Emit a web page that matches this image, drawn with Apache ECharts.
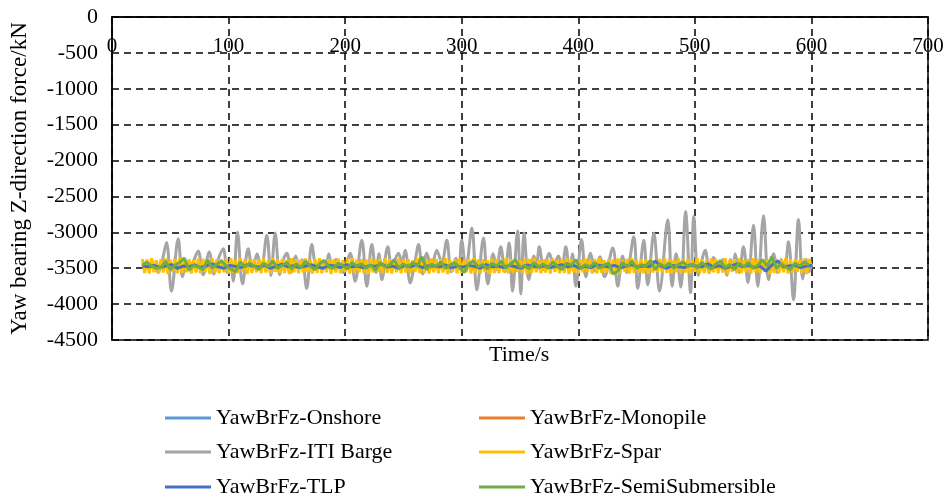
<!DOCTYPE html>
<html>
<head>
<meta charset="utf-8">
<script src="https://cdn.jsdelivr.net/npm/echarts@6/dist/echarts.min.js"></script>
<style>html,body{margin:0;padding:0;background:#fff;}#c{width:951px;height:503px;}</style>
</head>
<body>
<div id="c"></div>
<script>
// ---------- data ----------
const seriesNames = ['YawBrFz-Onshore','YawBrFz-Monopile','YawBrFz-ITI Barge','YawBrFz-Spar','YawBrFz-TLP','YawBrFz-SemiSubmersible'];
const xTicks = [0,100,200,300,400,500,600,700];
const yTicks = [0,-500,-1000,-1500,-2000,-2500,-3000,-3500,-4000,-4500];

// ITI Barge: [time s, force kN] read at peaks / troughs
const bargeData = [
[26,-3470],[29,-3420],[32,-3510],[35,-3430],[37.5,-3500],[39.6,-3560],[43,-3400],[46.8,-3140],[51,-3820],[56.8,-3090],
[60.5,-3620],[64,-3420],[67,-3530],[70,-3400],[73.9,-3260],[78.2,-3590],[83.4,-3275],[87.4,-3580],[91,-3380],[95.4,-3230],
[99,-3560],[101.5,-3420],[104,-3680],[107.6,-3000],[112,-3720],[116.8,-3230],[120.5,-3530],[124.5,-3300],[128,-3520],[132.8,-3040],
[136.3,-3600],[140,-3010],[143.8,-3590],[147,-3380],[150,-3290],[153.7,-3560],[157.5,-3330],[160.5,-3470],[163,-3380],[167,-3780],
[171.4,-3170],[175.5,-3500],[179,-3400],[183,-3500],[186,-3300],[188.5,-3500],[192,-3380],[195.5,-3480],[198.6,-3560],[204.3,-3290],
[208.6,-3680],[214.3,-3110],[218.6,-3750],[222.9,-3170],[226.5,-3560],[229,-3300],[231.5,-3660],[236.6,-3200],[240,-3475],[245.8,-3290],
[248.6,-3430],[251.5,-3250],[255.8,-3705],[259.5,-3450],[263,-3170],[266.5,-3580],[270,-3290],[274,-3500],[278.6,-3250],[282.9,-3430],
[287.2,-3110],[291,-3550],[295,-3360],[297.5,-3500],[300,-3110],[303.5,-3520],[308.7,-2940],[313,-3800],[318.7,-3080],[322.4,-3720],
[327,-3300],[330,-3520],[333.5,-3200],[337,-3550],[340.7,-3150],[343.6,-3820],[347.9,-2980],[350.7,-3860],[353.5,-3010],[357.5,-3660],
[362,-3330],[364.2,-3480],[366.5,-3200],[370.5,-3520],[375,-3290],[379,-3450],[383,-3330],[386,-3500],[389.3,-3200],[392.5,-3540],
[395,-3300],[397.9,-3750],[402.8,-3100],[406.5,-3620],[410.5,-3290],[414.5,-3540],[418.5,-3340],[422.5,-3620],[429.6,-3220],[433.9,-3750],
[438,-3330],[441.5,-3560],[447.6,-3060],[451,-3780],[456.2,-3110],[459.6,-3730],[464.8,-3010],[469.7,-3820],[476.8,-2825],[480.5,-3750],
[484,-3300],[488,-3760],[492,-2710],[496.3,-3840],[499.1,-2780],[503,-3600],[508.9,-3250],[512.5,-3560],[516,-3350],[520,-3490],
[524,-3380],[527.5,-3600],[530.5,-3380],[532.5,-3520],[534.6,-3300],[538,-3560],[541.7,-3200],[545.5,-3700],[550.3,-2900],[554,-3750],
[558.9,-2770],[563.2,-3660],[567.5,-3300],[571,-3560],[574,-3380],[577,-3500],[580.3,-3130],[584.6,-3940],[588.9,-2820],[592.5,-3650],
[595.5,-3380],[598,-3550],[600,-3460]
];

// Spar: sampled every 2 s from 26 s
const sparStart = 26, sparStep = 2;
const sparValues = [
-3370,-3565,-3380,-3575,-3360,-3555,-3390,-3570,-3375,-3560,
-3365,-3580,-3385,-3550,-3370,-3570,-3360,-3565,-3380,-3555,
-3375,-3575,-3390,-3560,-3365,-3570,-3370,-3550,-3385,-3580,
-3360,-3565,-3375,-3570,-3380,-3555,-3370,-3575,-3365,-3560,
-3390,-3570,-3360,-3550,-3375,-3580,-3385,-3565,-3370,-3555,
-3380,-3570,-3365,-3560,-3390,-3575,-3360,-3550,-3375,-3570,
-3370,-3565,-3385,-3580,-3360,-3555,-3375,-3570,-3380,-3560,
-3365,-3550,-3390,-3575,-3370,-3565,-3360,-3570,-3385,-3555,
-3375,-3580,-3380,-3560,-3365,-3570,-3390,-3550,-3370,-3575,
-3360,-3565,-3385,-3555,-3375,-3570,-3380,-3580,-3365,-3560,
-3390,-3550,-3370,-3570,-3360,-3565,-3375,-3575,-3385,-3555,
-3365,-3570,-3380,-3560,-3370,-3580,-3390,-3550,-3360,-3570,
-3375,-3565,-3385,-3575,-3365,-3555,-3370,-3570,-3380,-3560,
-3360,-3580,-3390,-3550,-3375,-3570,-3365,-3565,-3385,-3555,
-3370,-3575,-3360,-3560,-3380,-3570,-3375,-3550,-3390,-3580,
-3365,-3565,-3370,-3570,-3385,-3555,-3360,-3575,-3375,-3560,
-3380,-3550,-3390,-3570,-3365,-3580,-3370,-3565,-3360,-3555,
-3385,-3570,-3375,-3560,-3380,-3575,-3365,-3550,-3390,-3570,
-3370,-3565,-3360,-3580,-3375,-3555,-3385,-3570,-3380,-3560,
-3365,-3550,-3390,-3575,-3370,-3570,-3360,-3565,-3385,-3555,
-3375,-3580,-3380,-3560,-3365,-3570,-3390,-3550,-3370,-3575,
-3360,-3565,-3385,-3555,-3375,-3570,-3380,-3580,-3365,-3560,
-3390,-3550,-3370,-3570,-3360,-3565,-3375,-3575,-3385,-3555,
-3365,-3570,-3380,-3560,-3370,-3580,-3390,-3550,-3360,-3570,
-3375,-3565,-3385,-3575,-3365,-3555,-3370,-3570,-3380,-3560,
-3360,-3580,-3390,-3550,-3375,-3570,-3365,-3565,-3385,-3555,
-3370,-3575,-3360,-3560,-3380,-3570,-3375,-3550,-3390,-3580,
-3365,-3565,-3370,-3570,-3385,-3555,-3360,-3575,-3375,-3560,
-3380,-3550,-3390,-3570,-3365,-3580,-3370,-3480
];

// SemiSubmersible: every 4 s from 26 s
const semiStart = 26, semiStep = 4;
const semiValues = [
-3455,-3420,-3470,-3500,-3490,-3400,-3520,-3460,-3420,-3360,
-3525,-3460,-3480,-3520,-3385,-3500,-3440,-3400,-3470,-3510,
-3550,-3410,-3480,-3430,-3470,-3520,-3430,-3480,-3400,-3500,
-3460,-3420,-3510,-3440,-3490,-3400,-3470,-3520,-3440,-3390,
-3480,-3500,-3430,-3460,-3510,-3420,-3470,-3440,-3500,-3450,
-3530,-3420,-3480,-3460,-3380,-3500,-3440,-3490,-3420,-3470,
-3340,-3520,-3440,-3480,-3410,-3500,-3460,-3420,-3490,-3560,
-3440,-3400,-3480,-3450,-3510,-3430,-3470,-3400,-3500,-3440,
-3380,-3490,-3460,-3510,-3420,-3480,-3440,-3500,-3410,-3470,
-3520,-3430,-3460,-3380,-3500,-3450,-3480,-3420,-3500,-3460,
-3430,-3580,-3540,-3420,-3480,-3400,-3500,-3450,-3470,-3390,
-3520,-3440,-3480,-3430,-3500,-3450,-3410,-3480,-3440,-3500,
-3420,-3470,-3510,-3440,-3400,-3490,-3450,-3520,-3430,-3480,
-3420,-3500,-3460,-3380,-3470,-3340,-3500,-3440,-3480,-3520,
-3430,-3470,-3410,-3460
];

// TLP: every 5 s from 26 s
const tlpStart = 26, tlpStep = 5;
const tlpValues = [
-3470,-3480,-3460,-3490,-3470,-3450,-3500,-3470,-3480,-3455,
-3490,-3465,-3440,-3480,-3500,-3460,-3475,-3490,-3450,-3470,
-3485,-3460,-3500,-3470,-3445,-3480,-3465,-3490,-3470,-3455,
-3480,-3500,-3460,-3470,-3490,-3450,-3480,-3470,-3495,-3460,
-3475,-3440,-3485,-3470,-3500,-3460,-3480,-3450,-3490,-3470,
-3465,-3480,-3455,-3495,-3470,-3485,-3460,-3475,-3500,-3450,
-3480,-3470,-3490,-3460,-3480,-3500,-3455,-3470,-3485,-3465,
-3490,-3470,-3450,-3480,-3460,-3500,-3475,-3490,-3455,-3470,
-3480,-3460,-3495,-3470,-3450,-3485,-3465,-3480,-3400,-3470,
-3500,-3460,-3480,-3490,-3455,-3470,-3480,-3440,-3485,-3465,
-3500,-3470,-3440,-3480,-3460,-3490,-3470,-3540,-3455,-3400,
-3480,-3470,-3460,-3490,-3470,-3460
];

// Onshore and Monopile: every 10 s from 26 s
const onshoreStart = 26, onshoreStep = 10;
const onshoreValues = [
-3470,-3480,-3460,-3475,-3485,-3465,-3470,-3480,-3460,-3475,
-3470,-3485,-3465,-3475,-3480,-3460,-3470,-3485,-3475,-3465,
-3480,-3470,-3460,-3475,-3485,-3470,-3465,-3480,-3470,-3475,
-3460,-3485,-3470,-3465,-3480,-3475,-3470,-3460,-3485,-3470,
-3475,-3465,-3480,-3470,-3460,-3485,-3475,-3470,-3465,-3480,
-3470,-3475,-3460,-3485,-3470,-3465,-3480,-3470
];
const monopileStart = 26, monopileStep = 10;
const monopileValues = [
-3475,-3465,-3480,-3470,-3460,-3485,-3475,-3465,-3480,-3470,
-3485,-3460,-3475,-3470,-3465,-3480,-3485,-3470,-3460,-3475,
-3470,-3480,-3465,-3485,-3470,-3460,-3475,-3470,-3480,-3465,
-3475,-3470,-3460,-3480,-3470,-3485,-3465,-3475,-3470,-3480,
-3460,-3470,-3485,-3475,-3465,-3470,-3480,-3460,-3475,-3470,
-3485,-3465,-3470,-3480,-3460,-3475,-3470,-3480
];

const colors = ['#5B9BD5','#ED7D31','#A5A5A5','#FFC000','#4472C4','#70AD47'];

// ---------- chart ----------
function grid(start, step, vals){ return vals.map((v,i)=>[start+i*step, v]); }
const FONT = '"Liberation Serif","Times New Roman",serif';

const chart = echarts.init(document.getElementById('c'), null, {renderer:'canvas'});
const mk = (i, data, extra) => Object.assign({
  name: seriesNames[i], type:'line', data: data, showSymbol:false, symbol:'none',
  lineStyle:{color:colors[i], width:3}, itemStyle:{color:colors[i]},
  animation:false, z: 2+i
}, extra||{});

const legendPos = [[165,407],[479,407],[165,441],[479,441],[165,476],[479,476]];
const legends = seriesNames.map((n,i)=>({
  data:[n], orient:'horizontal', left:legendPos[i][0], top:legendPos[i][1],
  itemWidth:46, itemHeight:14, itemGap:6, icon:'path://M0,5.5 L46,5.5 L46,8.5 L0,8.5 Z',
  textStyle:{fontFamily:FONT, fontSize:22, color:'#000'}, padding:0
}));

chart.setOption({
  animation:false,
  backgroundColor:'#fff',
  title:{text:'Time/s', left:489, top:344, padding:0,
    textStyle:{fontFamily:FONT, fontSize:22, fontWeight:'normal', color:'#000'}},
  grid:{left:112, right:23, top:17, bottom:163, show:true, borderColor:'#000', borderWidth:1.5, backgroundColor:'transparent'},
  xAxis:{type:'value', position:'top', min:xTicks[0], max:xTicks[xTicks.length-1], interval:100,
    axisLine:{show:true, onZero:false, lineStyle:{color:'#000', width:1.5}},
    axisTick:{show:false},
    axisLabel:{inside:true, margin:19, fontFamily:FONT, fontSize:21, color:'#000', formatter:v=>String(v)},
    splitLine:{show:true, lineStyle:{color:'#000', width:1.5, type:[7,5]}}},
  yAxis:{type:'value', min:yTicks[yTicks.length-1], max:yTicks[0], interval:500,
    name:'Yaw bearing Z-direction force/kN', nameLocation:'middle', nameGap:81, nameRotate:90,
    nameTextStyle:{fontFamily:FONT, fontSize:23, color:'#000'},
    axisLine:{show:true, lineStyle:{color:'#000', width:1.5}},
    axisTick:{show:false},
    axisLabel:{margin:14, fontFamily:FONT, fontSize:22, color:'#000', formatter:v=>String(v)},
    splitLine:{show:true, lineStyle:{color:'#000', width:1.5, type:[7,5]}}},
  legend: legends,
  series:[
    mk(0, grid(onshoreStart, onshoreStep, onshoreValues)),
    mk(1, grid(monopileStart, monopileStep, monopileValues)),
    mk(2, bargeData, {smooth:0.35}),
    mk(3, grid(sparStart, sparStep, sparValues)),
    mk(4, grid(tlpStart, tlpStep, tlpValues)),
    mk(5, grid(semiStart, semiStep, semiValues))
  ]
});
</script>
</body>
</html>
